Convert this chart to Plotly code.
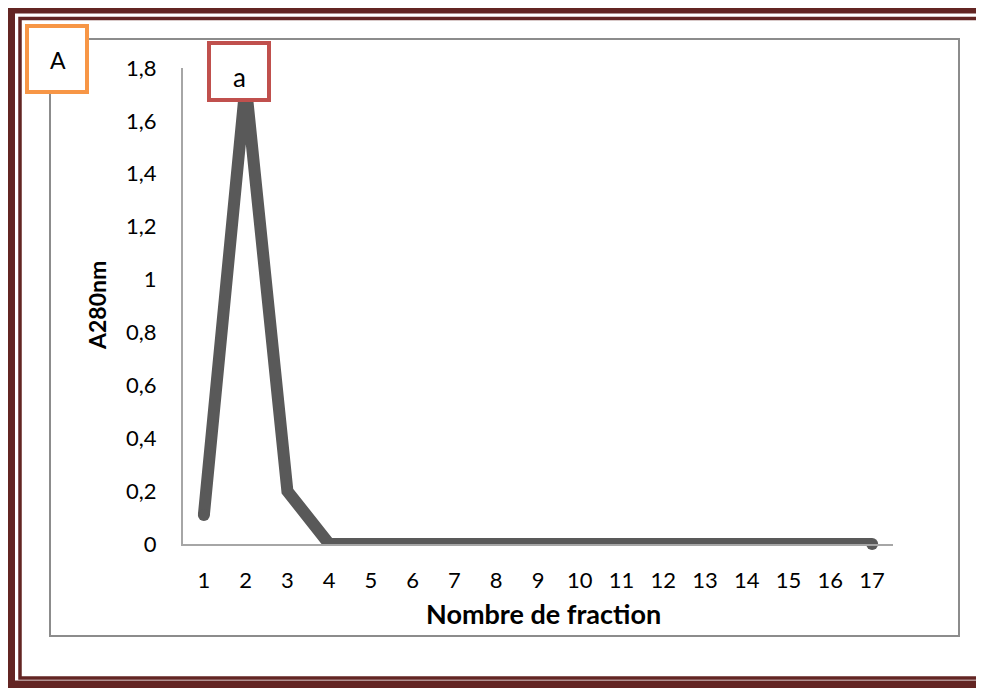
import plotly.graph_objects as go

fractions = [str(i) for i in range(1, 18)]
a280 = [0.11, 1.74, 0.20] + [0.0] * 14
y_ticks = [0, 0.2, 0.4, 0.6, 0.8, 1.0, 1.2, 1.4, 1.6, 1.8]
y_tick_labels = ["0", "0,2", "0,4", "0,6", "0,8", "1", "1,2", "1,4", "1,6", "1,8"]

# page body has an 8px margin: build the figure 8px smaller and shifted
OFF = 8
W, H = 984 - OFF, 688 - OFF
L, R, T, B = 183, 893, 68, 544   # plot area in reference pixels
FONT = "Lato"
LINE_COLOR = "#595959"

def px(x):
    return (x - L) / (R - L)

def py(y):
    return (B - y) / (B - T)

fig = go.Figure()
fig.add_trace(go.Scatter(
    x=fractions, y=a280, mode="lines",
    line=dict(color=LINE_COLOR, width=12),
    hoverinfo="skip", showlegend=False, cliponaxis=False,
))
# round caps at both ends of the line
fig.add_trace(go.Scatter(
    x=[fractions[0], fractions[-1]], y=[a280[0], a280[-1]], mode="markers",
    marker=dict(color=LINE_COLOR, size=12, opacity=1, line=dict(width=0)),
    hoverinfo="skip", showlegend=False, cliponaxis=False,
))

shapes = []
def rect(x0, y0, x1, y1, color, width, fill=None):
    shapes.append(dict(type="rect", xref="paper", yref="paper",
                       x0=px(x0), x1=px(x1), y0=py(y1), y1=py(y0),
                       line=dict(color=color, width=width),
                       fillcolor=fill if fill else "rgba(0,0,0,0)", layer="above"))

# outer decorative frame
rect(10.5, 9, 992, 685, "#632523", 9)
rect(20, 18.5, 981, 678, "#632523", 3.5)
# chart area border
rect(50, 39, 959, 636, "#8C8C8C", 2)
# label boxes
rect(27, 26, 87, 92, "#F79646", 4, "white")
rect(209, 43, 269, 100, "#C0504D", 4, "white")

def ann(text, x, y, size, angle=0):
    return dict(text=text, x=px(x), y=py(y), xref="paper", yref="paper",
                xanchor="center", yanchor="middle", showarrow=False,
                textangle=angle, font=dict(family=FONT, size=size, color="black"))

annotations = [
    ann("A", 58, 60, 23),
    ann("a", 239, 77, 26),
    ann("<b>A280nm</b>", 97, 306, 23, -90),
    ann("<b>Nombre de fraction</b>", 543, 613, 27),
]

fig.update_layout(
    width=W, height=H,
    margin=dict(l=L - OFF, r=W - (R - OFF), t=T - OFF, b=H - (B - OFF), pad=0),
    paper_bgcolor="white", plot_bgcolor="white",
    shapes=shapes, annotations=annotations,
    font=dict(family=FONT, size=22, color="black"),
    xaxis=dict(type="category", range=[-0.5, 16.5], showgrid=False, zeroline=False,
               showline=True, linecolor="#A6A6A6", linewidth=2, ticks="",
               ticklabelstandoff=16, tickfont=dict(family=FONT, size=22)),
    yaxis=dict(range=[0, 1.8], tickvals=y_ticks, ticktext=y_tick_labels,
               showgrid=False, zeroline=False, showline=True,
               linecolor="#A6A6A6", linewidth=2, ticks="",
               ticklabelstandoff=20, tickfont=dict(family=FONT, size=22)),
)

fig.write_html("out.html")
